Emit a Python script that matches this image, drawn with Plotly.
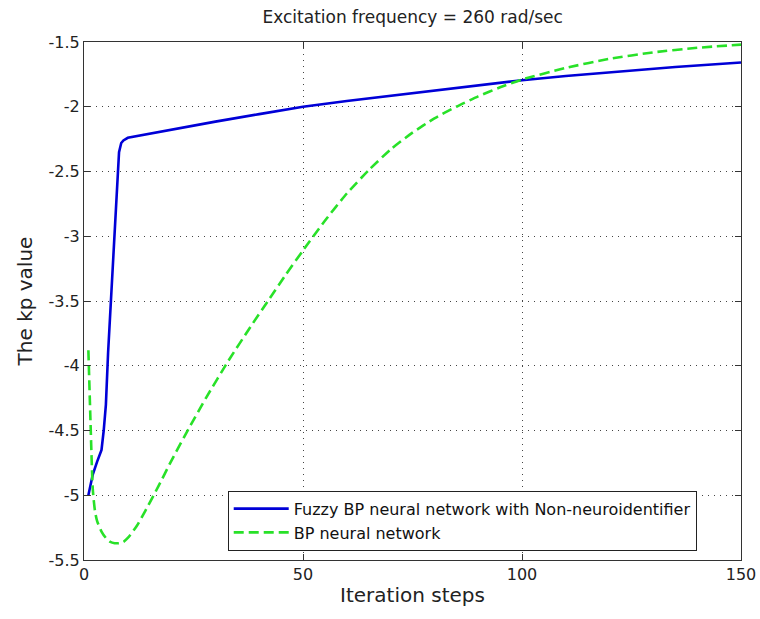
import plotly.graph_objects as go

# Data
blue_x = [1, 2, 3, 4, 4.5, 5, 5.5, 6, 6.5, 7, 7.5, 8, 8.5, 9, 10, 20, 30, 40, 50,
          60, 76, 90, 100, 110, 122, 135, 150]
blue_y = [-5.0, -4.84, -4.74, -4.65, -4.5, -4.3, -3.9, -3.6, -3.3, -3.0, -2.6, -2.35, -2.28,
          -2.26, -2.24, -2.175, -2.115, -2.057, -2.0, -1.955, -1.89, -1.835, -1.795, -1.763,
          -1.728, -1.693, -1.658]

green_x = [1, 1.5, 2, 2.5, 3, 4, 5, 6, 7, 8, 9, 10, 12, 14, 17, 20, 24, 28, 33, 38, 42, 46,
           50, 55, 60, 65, 70, 75, 80, 85, 90, 95, 100, 110, 120, 130, 140, 150]
green_y = [-3.88, -4.45, -4.95, -5.12, -5.2, -5.28, -5.33, -5.36, -5.37, -5.37, -5.36, -5.33,
           -5.24, -5.12, -4.93, -4.73, -4.48, -4.24, -3.96, -3.70, -3.50, -3.30, -3.11, -2.88,
           -2.67, -2.49, -2.33, -2.20, -2.09, -2.00, -1.92, -1.85, -1.79, -1.70, -1.63, -1.58,
           -1.545, -1.52]

x_ticks = [0, 50, 100, 150]
x_ticklabels = ["0", "50", "100", "150"]
y_ticks = [-1.5, -2, -2.5, -3, -3.5, -4, -4.5, -5, -5.5]
y_ticklabels = ["-1.5", "-2", "-2.5", "-3", "-3.5", "-4", "-4.5", "-5", "-5.5"]

series_names = ["Fuzzy BP neural network with Non-neuroidentifier", "BP neural network"]

FONT = "DejaVu Sans, Liberation Sans, Arial, sans-serif"

fig = go.Figure()
fig.add_trace(go.Scatter(x=blue_x, y=blue_y, mode="lines", name=series_names[0],
                         line=dict(color="rgb(0,0,215)", width=2.6)))
fig.add_trace(go.Scatter(x=green_x, y=green_y, mode="lines", name=series_names[1],
                         line=dict(color="rgb(40,225,40)", width=2.6, dash="10px,5px",
                                   shape="spline", smoothing=0.6)))

axis_common = dict(showline=True, linecolor="#333333", linewidth=1, mirror="ticks",
                   ticks="inside", ticklen=6, tickcolor="#333333", automargin=False,
                   showgrid=True, gridcolor="#444444", gridwidth=1, griddash="1px,5px",
                   zeroline=False, tickfont=dict(family=FONT, size=16, color="#222222"))

fig.update_layout(
    width=760, height=619,
    margin=dict(l=84, r=19, t=42, b=59),
    paper_bgcolor="white", plot_bgcolor="white",
    title=dict(text="Excitation frequency = 260 rad/sec", x=0.543, xanchor="center",
               y=0.972, yanchor="middle",
               font=dict(family=FONT, size=17, color="#222222")),
    xaxis=dict(range=[0, 150], tickvals=x_ticks, ticktext=x_ticklabels,
               title=dict(text="Iteration steps", font=dict(family=FONT, size=20, color="#222222"),
                          standoff=4),
               **axis_common),
    yaxis=dict(range=[-5.5, -1.5], tickvals=y_ticks, ticktext=y_ticklabels,
               title=dict(text="The kp value", font=dict(family=FONT, size=20, color="#222222"),
                          standoff=10),
               **axis_common),
    legend=dict(x=0.9326, y=0.018, xanchor="right", yanchor="bottom",
                bgcolor="white", bordercolor="#222222", borderwidth=1,
                font=dict(family=FONT, size=16, color="#111111"),
                itemwidth=55, tracegroupgap=0),
    showlegend=True,
)

fig.write_html("out.html")
